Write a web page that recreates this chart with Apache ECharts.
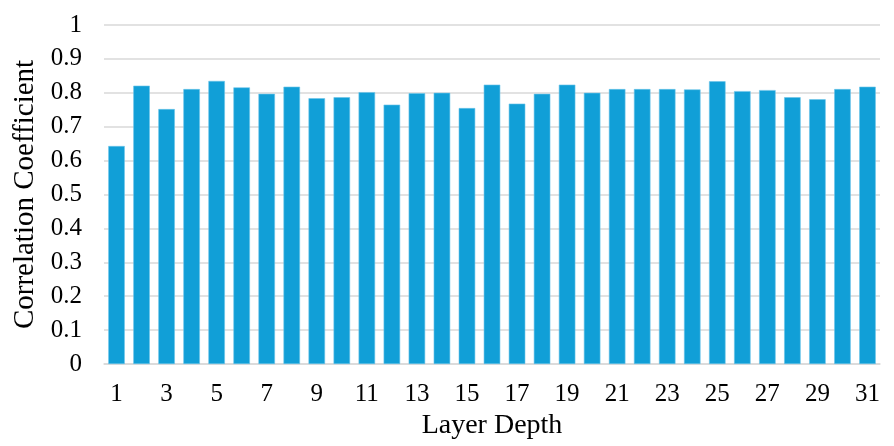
<!DOCTYPE html>
<html>
<head>
<meta charset="utf-8" />
<title>Correlation Coefficient by Layer Depth</title>
<script type="text/javascript" src="https://cdn.jsdelivr.net/npm/echarts@6/dist/echarts.min.js"></script>
</head>
<body style="margin:0;background-color:white;">
<div id="main" style="width:894px;height:446px;background-color:white;"></div>
<script type="text/javascript">
// layer depth 1..31
var layers = ['1','2','3','4','5','6','7','8','9','10','11','12','13','14','15','16',
              '17','18','19','20','21','22','23','24','25','26','27','28','29','30','31'];
var corr = [0.643, 0.821, 0.752, 0.811, 0.835, 0.816, 0.797, 0.818, 0.784, 0.787, 0.802,
            0.765, 0.799, 0.800, 0.755, 0.824, 0.768, 0.797, 0.824, 0.800, 0.811, 0.811,
            0.811, 0.810, 0.834, 0.805, 0.808, 0.787, 0.781, 0.811, 0.818];

var font = '"Liberation Serif", "Times New Roman", serif';
var myChart = echarts.init(document.getElementById('main'));
myChart.setOption({
    animation: false,
    grid: { left: 104, right: 14, top: 25, bottom: 82 },
    xAxis: {
        type: 'category',
        data: layers,
        name: 'Layer Depth',
        nameLocation: 'middle',
        nameGap: 47,
        nameTextStyle: { fontFamily: font, fontSize: 28, color: '#000' },
        axisLine: { lineStyle: { color: '#d9d9d9', width: 1.5 } },
        axisTick: { show: false },
        axisLabel: { interval: 1, fontFamily: font, fontSize: 25, color: '#000', margin: 18 }
    },
    yAxis: {
        type: 'value',
        min: 0, max: 1, interval: 0.1,
        name: 'Correlation Coefficient',
        nameLocation: 'middle',
        nameGap: 53,
        nameTextStyle: { fontFamily: font, fontSize: 29, color: '#000' },
        axisLine: { show: false },
        axisTick: { show: false },
        axisLabel: { fontFamily: font, fontSize: 25, color: '#000', margin: 22,
            formatter: function (v) { return String(Math.round(v * 10) / 10); } },
        splitLine: { lineStyle: { color: '#d9d9d9', width: 1.5 } }
    },
    series: [{
        type: 'bar',
        data: corr,
        barCategoryGap: '34%',
        itemStyle: { color: '#119fd7', borderColor: '#6cc4ea', borderWidth: 0.6 }
    }]
});
</script>
</body>
</html>
